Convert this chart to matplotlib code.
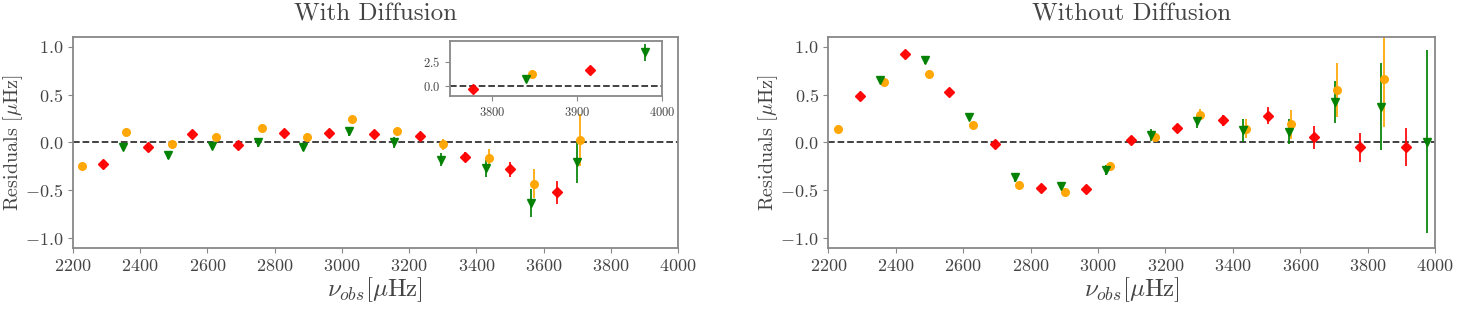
import matplotlib
matplotlib.use('Agg')
import matplotlib.pyplot as plt

plt.rcParams['font.family'] = 'serif'
plt.rcParams['font.serif'] = ['cmr10', 'DejaVu Serif']
plt.rcParams['mathtext.fontset'] = 'cm'
plt.rcParams['axes.formatter.use_mathtext'] = True
plt.rcParams['axes.unicode_minus'] = True

# ---- With diffusion (main panel) ----
wd_red_f = [2289, 2425, 2555, 2690, 2828, 2962, 3095, 3233, 3367, 3501, 3640]
wd_red_r = [-0.22, -0.045, 0.09, -0.025, 0.10, 0.095, 0.09, 0.07, -0.15, -0.28, -0.52]
wd_red_e = [0.02, 0.02, 0.02, 0.03, 0.02, 0.02, 0.02, 0.03, 0.05, 0.08, 0.12]

wd_orange_f = [2227, 2359, 2494, 2626, 2763, 2898, 3031, 3165, 3301, 3438, 3572, 3708]
wd_orange_r = [-0.25, 0.11, -0.015, 0.06, 0.15, 0.055, 0.245, 0.115, -0.02, -0.165, -0.43, 0.03]
wd_orange_e = [0.02, 0.02, 0.03, 0.02, 0.03, 0.03, 0.03, 0.04, 0.06, 0.10, 0.15, 0.27]

wd_green_f = [2349, 2483, 2614, 2751, 2886, 3021, 3155, 3294, 3428, 3563, 3700]
wd_green_r = [-0.05, -0.135, -0.04, 0.0, -0.05, 0.115, 0.0, -0.18, -0.27, -0.63, -0.2]
wd_green_e = [0.03, 0.04, 0.03, 0.05, 0.04, 0.05, 0.06, 0.07, 0.09, 0.15, 0.22]

# ---- With diffusion (inset, high frequencies) ----
ins_red_f = [3777, 3915]
ins_red_r = [-0.35, 1.67]
ins_red_e = [0.15, 0.2]
ins_orange_f = [3847]
ins_orange_r = [1.22]
ins_orange_e = [0.45]
ins_green_f = [3840, 3980]
ins_green_r = [0.73, 3.47]
ins_green_e = [0.35, 0.85]

# ---- Without diffusion ----
nd_red_f = [2294, 2428, 2559, 2694, 2831, 2964, 3099, 3233, 3370, 3504, 3641, 3777, 3914]
nd_red_r = [0.48, 0.92, 0.53, -0.014, -0.47, -0.485, 0.028, 0.15, 0.23, 0.28, 0.055, -0.05, -0.045]
nd_red_e = [0.02, 0.02, 0.02, 0.02, 0.02, 0.02, 0.03, 0.03, 0.06, 0.09, 0.12, 0.15, 0.2]

nd_orange_f = [2230, 2365, 2499, 2630, 2765, 2901, 3036, 3168, 3302, 3439, 3573, 3710, 3847]
nd_orange_r = [0.14, 0.63, 0.715, 0.18, -0.445, -0.52, -0.25, 0.052, 0.29, 0.145, 0.19, 0.545, 0.66]
nd_orange_e = [0.02, 0.02, 0.03, 0.02, 0.03, 0.03, 0.03, 0.04, 0.06, 0.10, 0.15, 0.28, 0.5]

nd_green_f = [2353, 2488, 2618, 2754, 2890, 3024, 3158, 3295, 3431, 3566, 3702, 3839, 3977]
nd_green_r = [0.65, 0.86, 0.27, -0.365, -0.45, -0.285, 0.08, 0.22, 0.13, 0.11, 0.42, 0.375, 0.01]
nd_green_e = [0.03, 0.04, 0.03, 0.05, 0.04, 0.05, 0.06, 0.07, 0.12, 0.13, 0.22, 0.45, 0.95]

text_c = '#444444'
frame_c = '#888888'


def style(ax, fs):
    for s in ax.spines.values():
        s.set_color(frame_c)
        s.set_linewidth(1.3)
    ax.tick_params(colors=frame_c, labelcolor=text_c, labelsize=fs)


def draw(ax, red, orange, green, ms=1.0):
    ax.errorbar(red[0], red[1], yerr=red[2], fmt='D', color='red', ecolor='red',
                ms=5.5 * ms, elinewidth=1.3, capsize=0, alpha=0.95)
    ax.errorbar(orange[0], orange[1], yerr=orange[2], fmt='o', color='orange', ecolor='orange',
                ms=5.5 * ms, elinewidth=1.3, capsize=0, alpha=0.95)
    ax.errorbar(green[0], green[1], yerr=green[2], fmt='v', color='green', ecolor='green',
                ms=5.5 * ms, elinewidth=1.3, capsize=0, alpha=0.95)
    ax.axhline(0, color='#333333', linestyle='--', linewidth=1.3, zorder=0)


fig = plt.figure(figsize=(14.61, 3.11), dpi=100)
ax1 = fig.add_axes([0.0498, 0.2026, 0.4143, 0.6785])
ax2 = fig.add_axes([0.567, 0.2026, 0.4153, 0.6785])

draw(ax1, (wd_red_f, wd_red_r, wd_red_e), (wd_orange_f, wd_orange_r, wd_orange_e),
     (wd_green_f, wd_green_r, wd_green_e))
draw(ax2, (nd_red_f, nd_red_r, nd_red_e), (nd_orange_f, nd_orange_r, nd_orange_e),
     (nd_green_f, nd_green_r, nd_green_e))

for ax, title in [(ax1, 'With Diffusion'), (ax2, 'Without Diffusion')]:
    ax.set_xlim(2200, 4000)
    ax.set_ylim(-1.1, 1.1)
    ax.set_xticks(range(2200, 4001, 200))
    ax.set_yticks([-1.0, -0.5, 0.0, 0.5, 1.0])
    ax.set_yticklabels(['$-1.0$', '$-0.5$', '$0.0$', '$0.5$', '$1.0$'])
    ax.set_xlabel(r'$\nu_{obs}[\mu\mathrm{Hz}]$', fontsize=18, color=text_c, labelpad=1)
    ax.set_ylabel(r'Residuals [$\mu$Hz]', fontsize=14.5, color=text_c)
    ax.yaxis.set_label_coords(-0.079, 0.5)
    ax.set_title(title, fontsize=18, color=text_c, pad=12)
    style(ax, 13)

axin = fig.add_axes([0.308, 0.691, 0.145, 0.177])
draw(axin, (ins_red_f, ins_red_r, ins_red_e), (ins_orange_f, ins_orange_r, ins_orange_e),
     (ins_green_f, ins_green_r, ins_green_e), ms=1.0)
axin.set_xlim(3750, 4000)
axin.set_ylim(-1.07, 4.66)
axin.set_xticks([3800, 3900, 4000])
axin.set_yticks([0.0, 2.5])
axin.set_yticklabels(['$0.0$', '$2.5$'])
style(axin, 9)

fig.savefig('out.png', dpi=100)
